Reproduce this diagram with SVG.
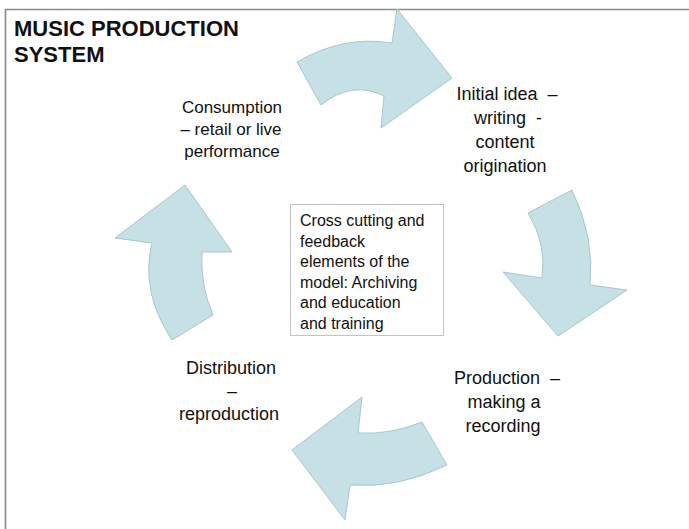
<svg xmlns="http://www.w3.org/2000/svg" width="689" height="529" viewBox="0 0 689 529">
<style>
.arrow{fill:#c6e1e5;stroke:#a9c7cb;stroke-width:1;stroke-linejoin:round}
.frame{stroke:#8a8a8a;stroke-width:1.6;fill:none}
.t{font-family:"Liberation Sans",Arial,sans-serif;fill:#111}
.title{font-size:22px;font-weight:bold}
.lbl{font-size:18px;text-anchor:middle;white-space:pre}
.lbl17{font-size:17px;text-anchor:middle}
.box{fill:#fff;stroke:#c4c4c4;stroke-width:1}
.boxt{font-size:16px}
</style>
<rect width="689" height="529" fill="#fff"/>
<g id="frame">
<line class="frame" x1="5" y1="9.5" x2="689" y2="9.5"/>
<line class="frame" x1="5.5" y1="9" x2="5.5" y2="529"/>
</g>
<g id="title">
<text class="t title" x="14" y="36">MUSIC PRODUCTION</text>
<text class="t title" x="14" y="62">SYSTEM</text>
</g>
<g id="connectors">
<path class="arrow" d="M297,62 Q343,35 392,43 L397,9 L452,78 L381,128 L384,96 Q352,80 321,105 Z"/>
<path class="arrow" d="M528,213 L572,190 Q595,238 590,285 L627,290 L558,336 L503,272 L542,278 Q547,244 528,213 Z"/>
<path class="arrow" d="M422,422 L447,465 Q398,489 350,485 L345,520 L292,450 L362,397 L358,433 Q390,435 422,422 Z"/>
<path class="arrow" d="M172,340 L213,315 Q200,285 202,252 L232,252 L185,185 L115,238 L152,243 Q140,292 172,340 Z"/>
</g>
<g id="initial">
<text class="t lbl" x="507" y="100">Initial idea  –</text>
<text class="t lbl" x="508" y="124">writing  -</text>
<text class="t lbl" x="505" y="148">content</text>
<text class="t lbl" x="505" y="172">origination</text>
</g>
<g id="production">
<text class="t lbl" x="507" y="384">Production  –</text>
<text class="t lbl" x="504" y="408">making a</text>
<text class="t lbl" x="503" y="432">recording</text>
</g>
<g id="distribution">
<text class="t lbl" x="231" y="374">Distribution</text>
<text class="t lbl" x="232" y="397">–</text>
<text class="t lbl" x="229" y="420">reproduction</text>
</g>
<g id="consumption">
<text class="t lbl17" x="232" y="113">Consumption</text>
<text class="t lbl17" x="231" y="135">– retail or live</text>
<text class="t lbl17" x="232" y="157">performance</text>
</g>
<g id="center">
<rect class="box" x="290.5" y="204.5" width="153" height="131"/>
<text class="t boxt" x="300" y="226">Cross cutting and</text>
<text class="t boxt" x="300" y="246.5">feedback</text>
<text class="t boxt" x="300" y="267">elements of the</text>
<text class="t boxt" x="300" y="287.5">model: Archiving</text>
<text class="t boxt" x="300" y="308">and education</text>
<text class="t boxt" x="300" y="328.5">and training</text>
</g>
</svg>
